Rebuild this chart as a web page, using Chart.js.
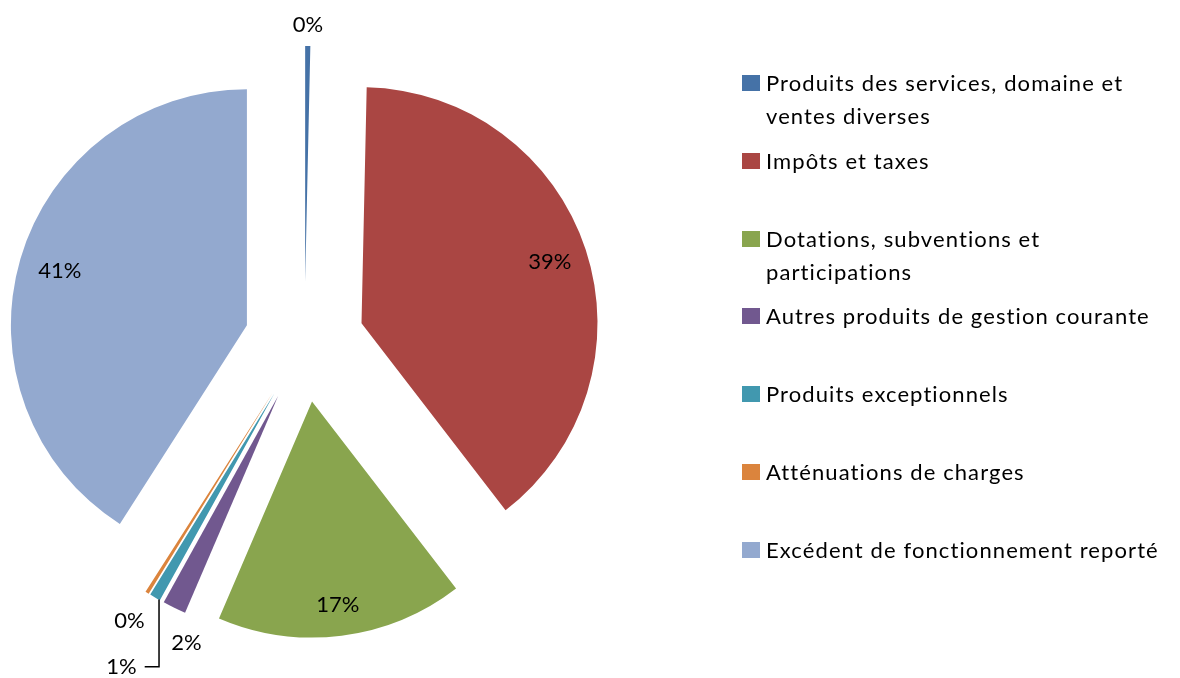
<!DOCTYPE html>
<html>
<head>
<meta charset="utf-8">
<style>
  html, body { margin: 0; padding: 0; background: #fff; }
  #wrap { position: relative; width: 1180px; height: 678px; }
  #legend { position: absolute; left: 742px; top: 0; width: 438px; font-family: Lato, "Open Sans", sans-serif; font-size: 22px; letter-spacing: 1.1px; color: #000; }
  .item { position: absolute; left: 0; }
  .box { position: absolute; left: 0; top: 9px; width: 18px; height: 16px; }
  .txt { position: absolute; left: 24px; top: 0; width: 408px; line-height: 33px; }
</style>
</head>
<body>
<div id="wrap">
  <canvas id="pieChart" width="1180" height="678"></canvas>
  <div id="legend"></div>
</div>

<script src="https://cdn.jsdelivr.net/npm/chart.js"></script>
<script>
// categories and shares (percent of total)
var categories = [
    'Produits des services, domaine et ventes diverses',
    'Impôts et taxes',
    'Dotations, subventions et participations',
    'Autres produits de gestion courante',
    'Produits exceptionnels',
    'Atténuations de charges',
    'Excédent de fonctionnement reporté'
];
var shares = [0.35, 39.2, 16.9, 1.6, 0.75, 0.25, 40.95];
var colors = ['#4572A7', '#AA4643', '#89A54E', '#71588F', '#4198AF', '#DB843D', '#93A9CF'];

// label placement: radius factor and small angle nudge (deg) per slice
var labelRadius = [1.09, 0.84, 0.87, 1.115, 1.325, 1.14, 0.826];
var labelNudge = [0, 0, 0, -5.7, -1.1, 0, 0];
var leaderLine = [false, false, false, false, true, false, false];

var pieRadius = 236;
var explodeDist = 60;

document.addEventListener('DOMContentLoaded', function () {
    var ctx = document.getElementById('pieChart').getContext('2d');

    // pull every slice out along its middle angle
    var explode = {
        id: 'explode',
        afterDatasetUpdate: function (chart, args) {
            args.meta.data.forEach(function (arc) {
                var mid = (arc.startAngle + arc.endAngle) / 2;
                arc.x += Math.cos(mid) * explodeDist;
                arc.y += Math.sin(mid) * explodeDist;
            });
        }
    };

    var pctLabels = {
        id: 'pctLabels',
        afterDatasetsDraw: function (chart) {
            var c = chart.ctx;
            var ds = chart.data.datasets[0];
            var total = ds.data.reduce(function (a, b) { return a + b; }, 0);
            var meta = chart.getDatasetMeta(0);
            c.save();
            c.font = '22px Lato, "Open Sans", sans-serif';
            c.fillStyle = '#000';
            c.textAlign = 'center';
            c.textBaseline = 'middle';
            meta.data.forEach(function (arc, i) {
                var mid = (arc.startAngle + arc.endAngle) / 2;
                var a = mid + labelNudge[i] * Math.PI / 180;
                var r = arc.outerRadius * labelRadius[i];
                var x = arc.x + Math.cos(a) * r;
                var y = arc.y + Math.sin(a) * r;
                var text = Math.round(ds.data[i] / total * 100) + '%';
                c.fillText(text, x, y);
                if (leaderLine[i]) {
                    var sx = arc.x + Math.cos(mid) * arc.outerRadius;
                    var sy = arc.y + Math.sin(mid) * arc.outerRadius;
                    var w = c.measureText(text).width;
                    c.strokeStyle = '#000';
                    c.lineWidth = 1.5;
                    c.beginPath();
                    c.moveTo(sx + 4, sy + 2);
                    c.lineTo(sx + 4, y);
                    c.lineTo(x + w / 2 + 8, y);
                    c.stroke();
                }
            });
            c.restore();
        }
    };

    new Chart(ctx, {
        type: 'pie',
        data: {
            labels: categories,
            datasets: [{
                data: shares,
                backgroundColor: colors,
                borderWidth: 0,
                radius: pieRadius
            }]
        },
        options: {
            responsive: false,
            animation: false,
            layout: { padding: { left: 0, right: 571, top: 6, bottom: 0 } },
            plugins: {
                legend: { display: false },
                tooltip: { enabled: false }
            }
        },
        plugins: [explode, pctLabels]
    });

    // legend on the right
    var legend = document.getElementById('legend');
    categories.forEach(function (name, i) {
        var item = document.createElement('div');
        item.className = 'item';
        item.style.top = (66 + i * 77.8) + 'px';
        var box = document.createElement('div');
        box.className = 'box';
        box.style.background = colors[i];
        var txt = document.createElement('div');
        txt.className = 'txt';
        txt.textContent = name;
        item.appendChild(box);
        item.appendChild(txt);
        legend.appendChild(item);
    });
});
</script>
</body>
</html>
